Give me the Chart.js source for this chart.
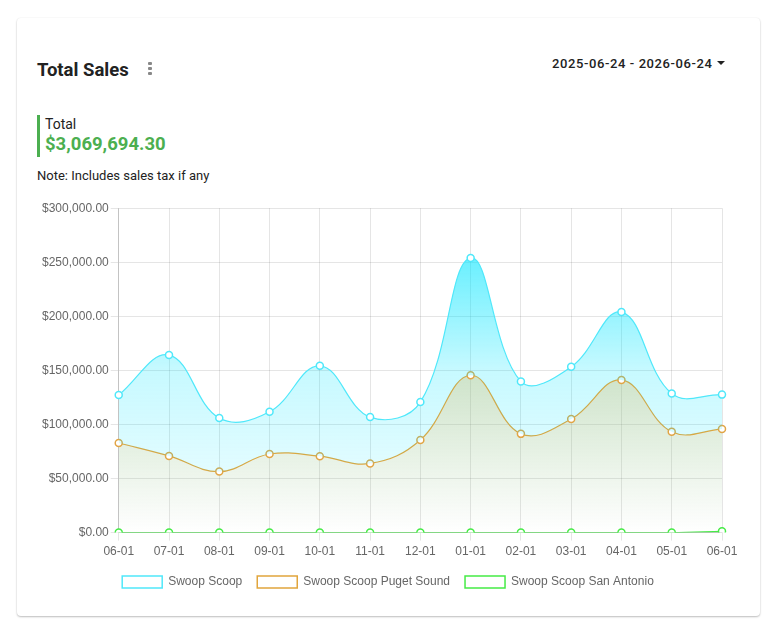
<!DOCTYPE html>
<html>
<head>
<meta charset="utf-8">
<script src="https://cdn.jsdelivr.net/npm/chart.js@4"></script>
<style>
  html, body { margin: 0; padding: 0; background: #fff; }
  body { width: 768px; height: 629px; position: relative; font-family: Roboto, "Noto Sans", Arial, sans-serif; }
  .card { position: absolute; left: 17px; top: 18px; width: 743px; height: 598px; background: #fff;
          border-radius: 4px; box-shadow: 0 1px 2px rgba(0,0,0,0.25), 0 0 2px rgba(0,0,0,0.06); }
  .title { position: absolute; left: 37px; top: 59px; font-size: 18.5px; font-weight: 700; color: #222; }
  .kebab { position: absolute; left: 148px; top: 62px; width: 4px; }
  .kebab span { display: block; width: 4px; height: 3px; margin-bottom: 2px; background: #888; border-radius: 1px; }
  .range { position: absolute; left: 552px; top: 56px; font-size: 13px; font-weight: 500; color: #222; letter-spacing: 0.6px; }
  .caret { display: inline-block; width: 0; height: 0; border-left: 4px solid transparent; border-right: 4px solid transparent;
           border-top: 4px solid #222; vertical-align: middle; margin-left: 4px; position: relative; top: -2px; }
  .total { position: absolute; left: 37px; top: 115px; height: 42px; border-left: 3px solid #4caf50; padding-left: 5px; }
  .total .lbl { font-size: 14px; color: #222; line-height: 18px; }
  .total .val { font-size: 18.5px; font-weight: 700; color: #4caf50; line-height: 22px; }
  .note { position: absolute; left: 37px; top: 168px; font-size: 13px; color: #222; }
  .chartbox { position: absolute; left: 34px; top: 199px; width: 716px; height: 399px; }
</style>
</head>
<body>
<div class="card"></div>
<div class="title">Total Sales</div>
<div class="kebab"><span></span><span></span><span></span></div>
<div class="range">2025-06-24 - 2026-06-24<span class="caret"></span></div>
<div class="total"><div class="lbl">Total</div><div class="val">$3,069,694.30</div></div>
<div class="note">Note: Includes sales tax if any</div>
<div class="chartbox"><canvas id="c"></canvas></div>
<script>
const labels = ["06-01","07-01","08-01","09-01","10-01","11-01","12-01","01-01","02-01","03-01","04-01","05-01","06-01"];
const swoopScoop = [127200, 164200, 105900, 111700, 154200, 106800, 120700, 254000, 139800, 153300, 203900, 128600, 127600];
const pugetSound = [82900, 70900, 56400, 72700, 70700, 64000, 85700, 145500, 91300, 105000, 141200, 93200, 95700];
const sanAntonio = [0, 0, 0, 0, 0, 0, 0, 0, 0, 0, 0, 0, 1200];
const seriesNames = ["Swoop Scoop", "Swoop Scoop Puget Sound", "Swoop Scoop San Antonio"];

function grad(ctx, stops) {
  const chart = ctx.chart;
  const area = chart.chartArea;
  if (!area) return 'rgba(0,0,0,0)';
  const g = chart.ctx.createLinearGradient(0, area.top, 0, area.bottom);
  stops.forEach(s => g.addColorStop(s[0], s[1]));
  return g;
}

const fmt = v => '$' + Number(v).toLocaleString('en-US', {minimumFractionDigits: 2, maximumFractionDigits: 2});

const legendShift = {
  id: 'legendShift',
  afterLayout(chart) {
    const l = chart.legend;
    if (l) { l.left += 7; l.right += 7; }
  }
};

new Chart(document.getElementById('c'), {
  type: 'line',
  plugins: [legendShift],
  data: {
    labels: labels,
    datasets: [
      {
        label: seriesNames[0], data: swoopScoop,
        borderColor: 'rgb(80,232,250)', borderWidth: 1.2,
        pointBackgroundColor: '#fff', pointBorderColor: 'rgb(80,232,250)', pointBorderWidth: 1.5, pointRadius: 3.5,
        tension: 0.4, fill: '+1',
        backgroundColor: ctx => grad(ctx, [[0, 'rgba(0,229,255,0.75)'], [0.5, 'rgba(0,229,255,0.22)'], [1, 'rgba(0,229,255,0.05)']])
      },
      {
        label: seriesNames[1], data: pugetSound,
        borderColor: 'rgb(225,165,60)', borderWidth: 1.2,
        pointBackgroundColor: '#fff', pointBorderColor: 'rgb(225,165,70)', pointBorderWidth: 1.5, pointRadius: 3.5,
        tension: 0.4, fill: 'origin',
        backgroundColor: ctx => grad(ctx, [[0, 'rgba(140,190,130,0.87)'], [1, 'rgba(140,190,130,0)']])
      },
      {
        label: seriesNames[2], data: sanAntonio,
        borderColor: 'rgb(70,235,70)', borderWidth: 1.2,
        pointBackgroundColor: '#fff', pointBorderColor: 'rgb(70,235,70)', pointBorderWidth: 1.5, pointRadius: 3.5,
        tension: 0.4, fill: false,
        backgroundColor: 'rgba(0,0,0,0)'
      }
    ]
  },
  options: {
    responsive: true, maintainAspectRatio: false, animation: false,
    layout: { padding: { left: 6, right: 28, top: 4, bottom: 0 } },
    plugins: {
      legend: {
        position: 'bottom',
        labels: {
          boxWidth: 40, boxHeight: 12, color: '#666', padding: 15,
          font: { family: 'Liberation Sans, Arial, sans-serif', size: 12 },
          generateLabels: chart => chart.data.datasets.map((d, i) => ({
            text: d.label, fillStyle: 'rgba(255,255,255,0)', strokeStyle: d.borderColor,
            lineWidth: 1.5, hidden: false, datasetIndex: i, fontColor: '#666'
          }))
        }
      },
      tooltip: { enabled: false }
    },
    scales: {
      x: {
        afterFit: s => { s.height = 28.4; },
        grid: { color: 'rgba(0,0,0,0.1)', tickLength: 8 },
        border: { color: 'rgba(0,0,0,0.15)' },
        ticks: { color: '#666', font: { family: 'Liberation Sans, Arial, sans-serif', size: 12 }, maxRotation: 0, padding: 4 }
      },
      y: {
        min: 0, max: 300000,
        grid: { color: 'rgba(0,0,0,0.1)', tickLength: 8 },
        border: { color: 'rgba(0,0,0,0.15)' },
        ticks: { stepSize: 50000, color: '#666', font: { family: 'Liberation Sans, Arial, sans-serif', size: 12 }, padding: 2,
                 callback: v => fmt(v) }
      }
    }
  }
});
</script>
</body>
</html>
